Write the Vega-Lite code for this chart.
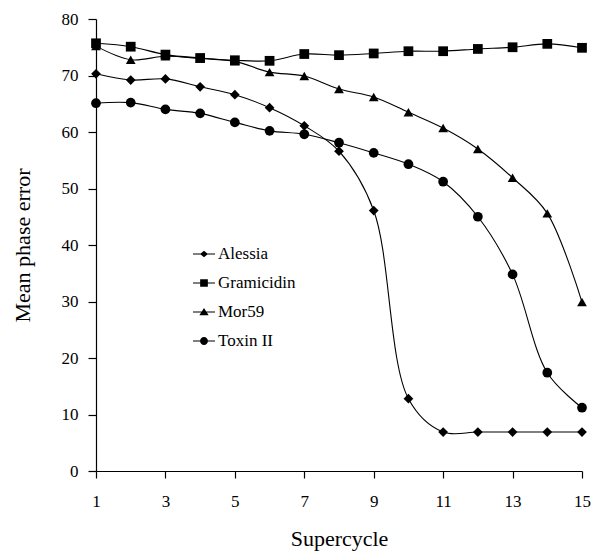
{
  "$schema": "https://vega.github.io/schema/vega-lite/v6.json",
  "autosize": "none",
  "width": 486,
  "height": 452,
  "padding": {"left": 96, "top": 19, "right": 14, "bottom": 84},
  "background": "white",
  "config": {
    "view": {"stroke": null},
    "font": "Liberation Serif",
    "axis": {
      "domainColor": "black", "tickColor": "black", "labelColor": "black", "titleColor": "black",
      "labelFont": "Liberation Serif", "titleFont": "Liberation Serif",
      "labelFontSize": 17, "titleFontSize": 22, "titleFontWeight": "normal",
      "grid": false, "domainWidth": 1.2, "tickWidth": 1.2
    },
    "legend": {"labelFont": "Liberation Serif", "labelFontSize": 17, "labelColor": "black"}
  },
  "data": {"values": [
    {"series": "Alessia", "cycle": 1, "error": 70.3},
    {"series": "Alessia", "cycle": 2, "error": 69.2},
    {"series": "Alessia", "cycle": 3, "error": 69.4},
    {"series": "Alessia", "cycle": 4, "error": 68.0},
    {"series": "Alessia", "cycle": 5, "error": 66.6},
    {"series": "Alessia", "cycle": 6, "error": 64.3},
    {"series": "Alessia", "cycle": 7, "error": 61.1},
    {"series": "Alessia", "cycle": 8, "error": 56.6},
    {"series": "Alessia", "cycle": 9, "error": 46.1},
    {"series": "Alessia", "cycle": 10, "error": 12.8},
    {"series": "Alessia", "cycle": 11, "error": 6.9},
    {"series": "Alessia", "cycle": 12, "error": 6.9},
    {"series": "Alessia", "cycle": 13, "error": 6.9},
    {"series": "Alessia", "cycle": 14, "error": 6.9},
    {"series": "Alessia", "cycle": 15, "error": 6.9},
    {"series": "Gramicidin", "cycle": 1, "error": 75.7},
    {"series": "Gramicidin", "cycle": 2, "error": 75.1},
    {"series": "Gramicidin", "cycle": 3, "error": 73.7},
    {"series": "Gramicidin", "cycle": 4, "error": 73.1},
    {"series": "Gramicidin", "cycle": 5, "error": 72.7},
    {"series": "Gramicidin", "cycle": 6, "error": 72.6},
    {"series": "Gramicidin", "cycle": 7, "error": 73.8},
    {"series": "Gramicidin", "cycle": 8, "error": 73.6},
    {"series": "Gramicidin", "cycle": 9, "error": 73.9},
    {"series": "Gramicidin", "cycle": 10, "error": 74.3},
    {"series": "Gramicidin", "cycle": 11, "error": 74.3},
    {"series": "Gramicidin", "cycle": 12, "error": 74.7},
    {"series": "Gramicidin", "cycle": 13, "error": 75.0},
    {"series": "Gramicidin", "cycle": 14, "error": 75.6},
    {"series": "Gramicidin", "cycle": 15, "error": 74.9},
    {"series": "Mor59", "cycle": 1, "error": 75.2},
    {"series": "Mor59", "cycle": 2, "error": 72.8},
    {"series": "Mor59", "cycle": 3, "error": 73.4},
    {"series": "Mor59", "cycle": 4, "error": 73.0},
    {"series": "Mor59", "cycle": 5, "error": 72.5},
    {"series": "Mor59", "cycle": 6, "error": 70.6},
    {"series": "Mor59", "cycle": 7, "error": 69.9},
    {"series": "Mor59", "cycle": 8, "error": 67.6},
    {"series": "Mor59", "cycle": 9, "error": 66.2},
    {"series": "Mor59", "cycle": 10, "error": 63.5},
    {"series": "Mor59", "cycle": 11, "error": 60.7},
    {"series": "Mor59", "cycle": 12, "error": 57.0},
    {"series": "Mor59", "cycle": 13, "error": 51.9},
    {"series": "Mor59", "cycle": 14, "error": 45.6},
    {"series": "Mor59", "cycle": 15, "error": 29.9},
    {"series": "Toxin II", "cycle": 1, "error": 65.1},
    {"series": "Toxin II", "cycle": 2, "error": 65.2},
    {"series": "Toxin II", "cycle": 3, "error": 64.0},
    {"series": "Toxin II", "cycle": 4, "error": 63.3},
    {"series": "Toxin II", "cycle": 5, "error": 61.7},
    {"series": "Toxin II", "cycle": 6, "error": 60.2},
    {"series": "Toxin II", "cycle": 7, "error": 59.6},
    {"series": "Toxin II", "cycle": 8, "error": 58.1},
    {"series": "Toxin II", "cycle": 9, "error": 56.3},
    {"series": "Toxin II", "cycle": 10, "error": 54.3},
    {"series": "Toxin II", "cycle": 11, "error": 51.2},
    {"series": "Toxin II", "cycle": 12, "error": 45.0},
    {"series": "Toxin II", "cycle": 13, "error": 34.8},
    {"series": "Toxin II", "cycle": 14, "error": 17.4},
    {"series": "Toxin II", "cycle": 15, "error": 11.2}
  ]},
  "encoding": {
    "x": {
      "field": "cycle", "type": "quantitative",
      "scale": {"domain": [1, 15], "nice": false, "zero": false},
      "axis": {"title": "Supercycle", "values": [1, 3, 5, 7, 9, 11, 13, 15], "tickSize": 7, "labelPadding": 15, "titlePadding": 19, "labelFlush": false}
    },
    "y": {
      "field": "error", "type": "quantitative",
      "scale": {"domain": [0, 80], "nice": false},
      "axis": {"title": "Mean phase error", "values": [0, 10, 20, 30, 40, 50, 60, 70, 80], "tickSize": 8, "labelPadding": 10, "titlePadding": 27, "labelFlush": false}
    }
  },
  "layer": [
    {
      "mark": {"type": "line", "color": "black", "strokeWidth": 1.1, "interpolate": "catmull-rom"},
      "encoding": {"detail": {"field": "series"}}
    },
    {
      "mark": {"type": "point", "filled": true, "color": "black", "opacity": 1, "size": 95},
      "encoding": {
        "shape": {
          "field": "series", "type": "nominal",
          "scale": {"domain": ["Alessia", "Gramicidin", "Mor59", "Toxin II"], "range": ["diamond", "square", "triangle-up", "circle"]},
          "legend": null
        }
      }
    },
    {
      "mark": {"type": "point", "filled": true, "fill": "black", "opacity": 0, "size": 10},
      "encoding": {
        "shape": {
          "field": "series", "type": "nominal",
          "scale": {"domain": ["Alessia", "Gramicidin", "Mor59", "Toxin II"], "range": [
            "M-1,-0.05H1V0.05H-1ZM0,-0.3L0.36,0L0,0.3L-0.36,0Z",
            "M-1,-0.05H1V0.05H-1ZM-0.35,-0.35H0.35V0.35H-0.35Z",
            "M-1,-0.05H1V0.05H-1ZM0,-0.36L0.42,0.3L-0.42,0.3Z",
            "M-1,-0.05H1V0.05H-1ZM-0.36,0A0.36,0.36 0 1,1 0.36,0A0.36,0.36 0 1,1 -0.36,0Z"
          ]},
          "legend": {
            "title": null, "orient": "none", "legendX": 97, "legendY": 224,
            "labelFont": "Liberation Serif", "labelFontSize": 17, "labelColor": "black",
            "symbolSize": 484, "rowPadding": 10, "labelOffset": 3, "padding": 0,
            "symbolFillColor": "black", "symbolStrokeColor": "black", "symbolStrokeWidth": 0, "symbolOpacity": 1
          }
        }
      }
    }
  ],
  "resolve": {"scale": {"shape": "independent"}, "legend": {"shape": "independent"}}
}
